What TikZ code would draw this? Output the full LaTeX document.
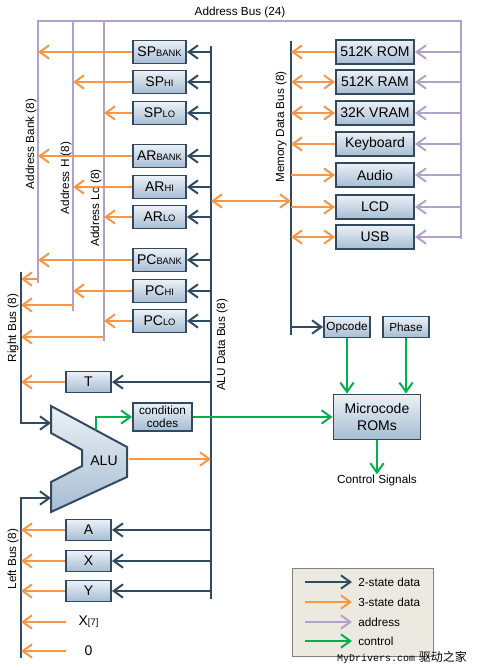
\documentclass[tikz,border=0pt]{standalone}
\usepackage{fontspec}
\setmainfont{Liberation Sans}
\setmonofont{Liberation Mono}
\newfontfamily\cjkfont{Noto Sans CJK SC}
\usepackage{xcolor}
\usetikzlibrary{positioning}
\usetikzlibrary{calc}
\usetikzlibrary{arrows.meta}
\definecolor{twostate}{RGB}{50,74,96}
\definecolor{threestate}{RGB}{247,150,70}
\definecolor{addrline}{RGB}{179,162,199}
\definecolor{ctrlline}{RGB}{0,176,80}
\definecolor{boxtop}{RGB}{236,241,246}
\definecolor{boxbot}{RGB}{166,189,211}
\definecolor{legendbg}{RGB}{236,234,224}
\newcommand{\regsub}[1]{{\fontsize{7}{7}\selectfont #1}}

\begin{document}
\begin{tikzpicture}[x=0.75pt,y=-0.75pt,
	>={Straight Barb[length=7pt,width=10pt]},
	two/.style={draw=twostate,line width=1.5pt},
	three/.style={draw=threestate,line width=1.5pt},
	addr/.style={draw=addrline,line width=1.5pt},
	ctrl/.style={draw=ctrlline,line width=1.5pt},
	unit/.style={draw=twostate,line width=1.4pt,top color=boxtop,bottom color=boxbot,inner sep=0pt,font=\fontsize{10.5}{12}\selectfont},
	reg/.style={unit,minimum width=39.75pt,minimum height=17.25pt},
	mem/.style={unit,minimum width=58.5pt,minimum height=18pt},
	cpu/.style={unit,minimum width=33.75pt,minimum height=15.75pt},
	seq/.style={unit,minimum width=34.5pt,minimum height=15.75pt,font=\fontsize{8.8}{10}\selectfont},
	src/.style={inner sep=0pt,minimum width=33.75pt,minimum height=15.75pt,font=\fontsize{10.5}{12}\selectfont},
	buslbl/.style={inner sep=0pt,font=\fontsize{8.8}{10}\selectfont},
	legtext/.style={anchor=west,inner sep=4.5pt,font=\fontsize{8.8}{10}\selectfont}]
				\useasboundingbox (0,0) rectangle (477,670);
				
				\coordinate (abL) at (38,21);
				\coordinate (abH) at (73,21);
				\coordinate (abLo) at (104,21);
				\coordinate (abR) at (461,21);
				\coordinate (abLb) at (38,283);
				\coordinate (abHb) at (73,311);
				\coordinate (abLob) at (104,341);
				\coordinate (abRb) at (461,239);
				\coordinate (adT) at (211,46);
				\coordinate (adB) at (211,599);
				\coordinate (mdT) at (291,41);
				\coordinate (mdB) at (291,335);
				\coordinate (rbT) at (21,272);
				\coordinate (rbB) at (21,423);
				\coordinate (lbT) at (21,498);
				\coordinate (lbB) at (21,658);
				
				\node[buslbl] (abus) at (240,12) {Address Bus (24)};
				\node[buslbl,rotate=90] (lbank) at (31,144) {Address Bank (8)};
				\node[buslbl,rotate=90] (lhi) at (66,178) {Address H (8)};
				\node[buslbl,rotate=90] (llo) at (96,208) {Address Lo (8)};
				\node[buslbl,rotate=90] (lmem) at (281,127) {Memory Data Bus (8)};
				\node[buslbl,rotate=90] (lalu) at (222,345) {ALU Data Bus (8)};
				\node[buslbl,rotate=90] (lright) at (13,328) {Right Bus (8)};
				\node[buslbl,rotate=90] (lleft) at (13,559) {Left Bus (8)};
				
				\draw[addr] (abLb) -- (abL) -- (abR) -- (abRb);
				\draw[addr] (abH) -- (abHb);
				\draw[addr] (abLo) -- (abLob);
				\draw[two] (adT) -- (adB);
				\draw[two] (mdT) -- (mdB);
				
				\node[reg] (spb) at (159.5,52) {SP\regsub{BANK}};
				\node[reg] (sph) at (159.5,82) {SP\regsub{HI}};
				\node[reg] (spl) at (159.5,113) {SP\regsub{LO}};
				\node[reg] (arb) at (159.5,156) {AR\regsub{BANK}};
				\node[reg] (arh) at (159.5,187) {AR\regsub{HI}};
				\node[reg] (arl) at (159.5,217) {AR\regsub{LO}};
				\node[reg] (pcb) at (159.5,260) {PC\regsub{BANK}};
				\node[reg] (pch) at (159.5,291) {PC\regsub{HI}};
				\node[reg] (pcl) at (159.5,321) {PC\regsub{LO}};
				
				\node[mem] (rom) at (375,52) {512K ROM};
				\node[mem] (ram) at (375,82) {512K RAM};
				\node[mem] (vram) at (375,113) {32K VRAM};
				\node[mem] (kbd) at (375,144) {Keyboard};
				\node[mem] (aud) at (375,175) {Audio};
				\node[mem] (lcd) at (375,207) {LCD};
				\node[mem] (usb) at (375,237) {USB};
				
				\node[cpu] (t) at (88.5,382) {T};
				\node[cpu] (a) at (88.5,530) {A};
				\node[cpu] (x) at (88.5,561) {X};
				\node[cpu] (y) at (88.5,591) {Y};
				\node[src] (x7) at (88.5,622) {X\regsub{[7]}};
				\node[src] (zero) at (88.5,651) {0};
				
				\node[seq,minimum width=44.25pt,minimum height=21pt,align=center,font=\fontsize{8.8}{9.5}\selectfont] (cc) at (162.5,417) {condition\\codes};
				\node[seq] (op) at (347,327) {Opcode};
				\node[seq] (ph) at (406,327) {Phase};
				\node[unit,minimum width=65.25pt,minimum height=33.75pt,align=center,font=\fontsize{10.5}{12.5}\selectfont] (mc) at (377,417) {Microcode\\ROMs};
				\node[buslbl] (cs) at (377,480) {Control Signals};
				
				\draw[two,top color=boxtop,bottom color=boxbot] (51,406) -- (127,447) -- (127,477) -- (51,512) -- (51,482) -- (82,466) -- (82,450) -- (51,433) -- cycle;
				\node[inner sep=0pt,font=\fontsize{10.5}{12}\selectfont] (alu) at (104,461) {ALU};
				\coordinate (aluA) at (51,423);
				\coordinate (aluB) at (51,498);
				\coordinate (aluO) at (129,459);
				\coordinate (aluC) at (96,430);
				
				\foreach \r in {spb,sph,spl,arb,arh,arl,pcb,pch,pcl,t,a,x,y}
					\draw[two,->] (\r -| adT) -- (\r.east);
				\foreach \r/\b in {spb/abL,arb/abL,pcb/abL,sph/abH,arh/abH,pch/abH,spl/abLo,arl/abLo,pcl/abLo}
					\draw[three,->] (\r.west) -- (\r -| \b);
				\foreach \r in {rom,ram,vram,kbd,aud,lcd,usb}
					\draw[addr,->] (\r -| abR) -- (\r.east);
				
				\draw[three,->] (rom.west) -- (rom -| mdT);
				\draw[three,<->] (ram -| mdT) -- (ram.west);
				\draw[three,<->] (vram -| mdT) -- (vram.west);
				\draw[three,->] (kbd.west) -- (kbd -| mdT);
				\draw[three,->] (aud -| mdT) -- (aud.west);
				\draw[three,->] (lcd -| mdT) -- (lcd.west);
				\draw[three,<->] (usb -| mdT) -- (usb.west);
				\coordinate (xb) at (211,201);
				\draw[three,<->] (xb) -- (xb -| mdT);
				\draw[two,->] (op -| mdT) -- (op.west);
				
				\coordinate (rx1) at (38,279);
				\coordinate (rx2) at (73,305);
				\coordinate (rx3) at (104,337);
				\draw[three,->] (rx1) -- (rx1 -| rbT);
				\draw[three,->] (rx2) -- (rx2 -| rbT);
				\draw[three,->] (rx3) -- (rx3 -| rbT);
				\draw[three,->] (t.west) -- (t -| rbT);
				\draw[two,->] (rbT) -- (rbB) -- (aluA);
				\draw[two,->] (lbB) -- (lbT) -- (aluB);
				\foreach \r in {a,x,y,x7,zero}
					\draw[three,->] (\r.west) -- (\r -| lbB);
				\draw[three,->] (aluO) -- (aluO -| adT);
				
				\draw[ctrl,->] (aluC) |- (cc.west);
				\draw[ctrl,->] (cc.east) -- (cc.east -| mc.west);
				\draw[ctrl,->] (op.south) -- (op.south |- mc.north);
				\draw[ctrl,->] (ph.south) -- (ph.south |- mc.north);
				\draw[ctrl,->] (mc.south) -- (cs.north);
				
				\node[draw=gray,line width=0.75pt,fill=legendbg,minimum width=105.75pt,minimum height=66pt] (legend) at (362.5,612) {};
				\node[legtext] (l1) at (352,582) {2-state data};
				\node[legtext] (l2) at (352,602) {3-state data};
				\node[legtext] (l3) at (352,622) {address};
				\node[legtext] (l4) at (352,641) {control};
				\coordinate (l1s) at (305,582);
				\coordinate (l2s) at (305,602);
				\coordinate (l3s) at (305,622);
				\coordinate (l4s) at (305,641);
				\draw[two,->] (l1s) -- (l1s -| l1.west);
				\draw[three,->] (l2s) -- (l2s -| l2.west);
				\draw[addr,->] (l3s) -- (l3s -| l3.west);
				\draw[ctrl,->] (l4s) -- (l4s -| l4.west);
				
				\node[inner sep=0pt] (mark) at (402,657) {{\ttfamily\fontsize{7.5}{8}\selectfont MyDrivers.com} {\cjkfont\fontsize{9}{10}\selectfont 驱动之家}};
			\end{tikzpicture}
\end{document}
